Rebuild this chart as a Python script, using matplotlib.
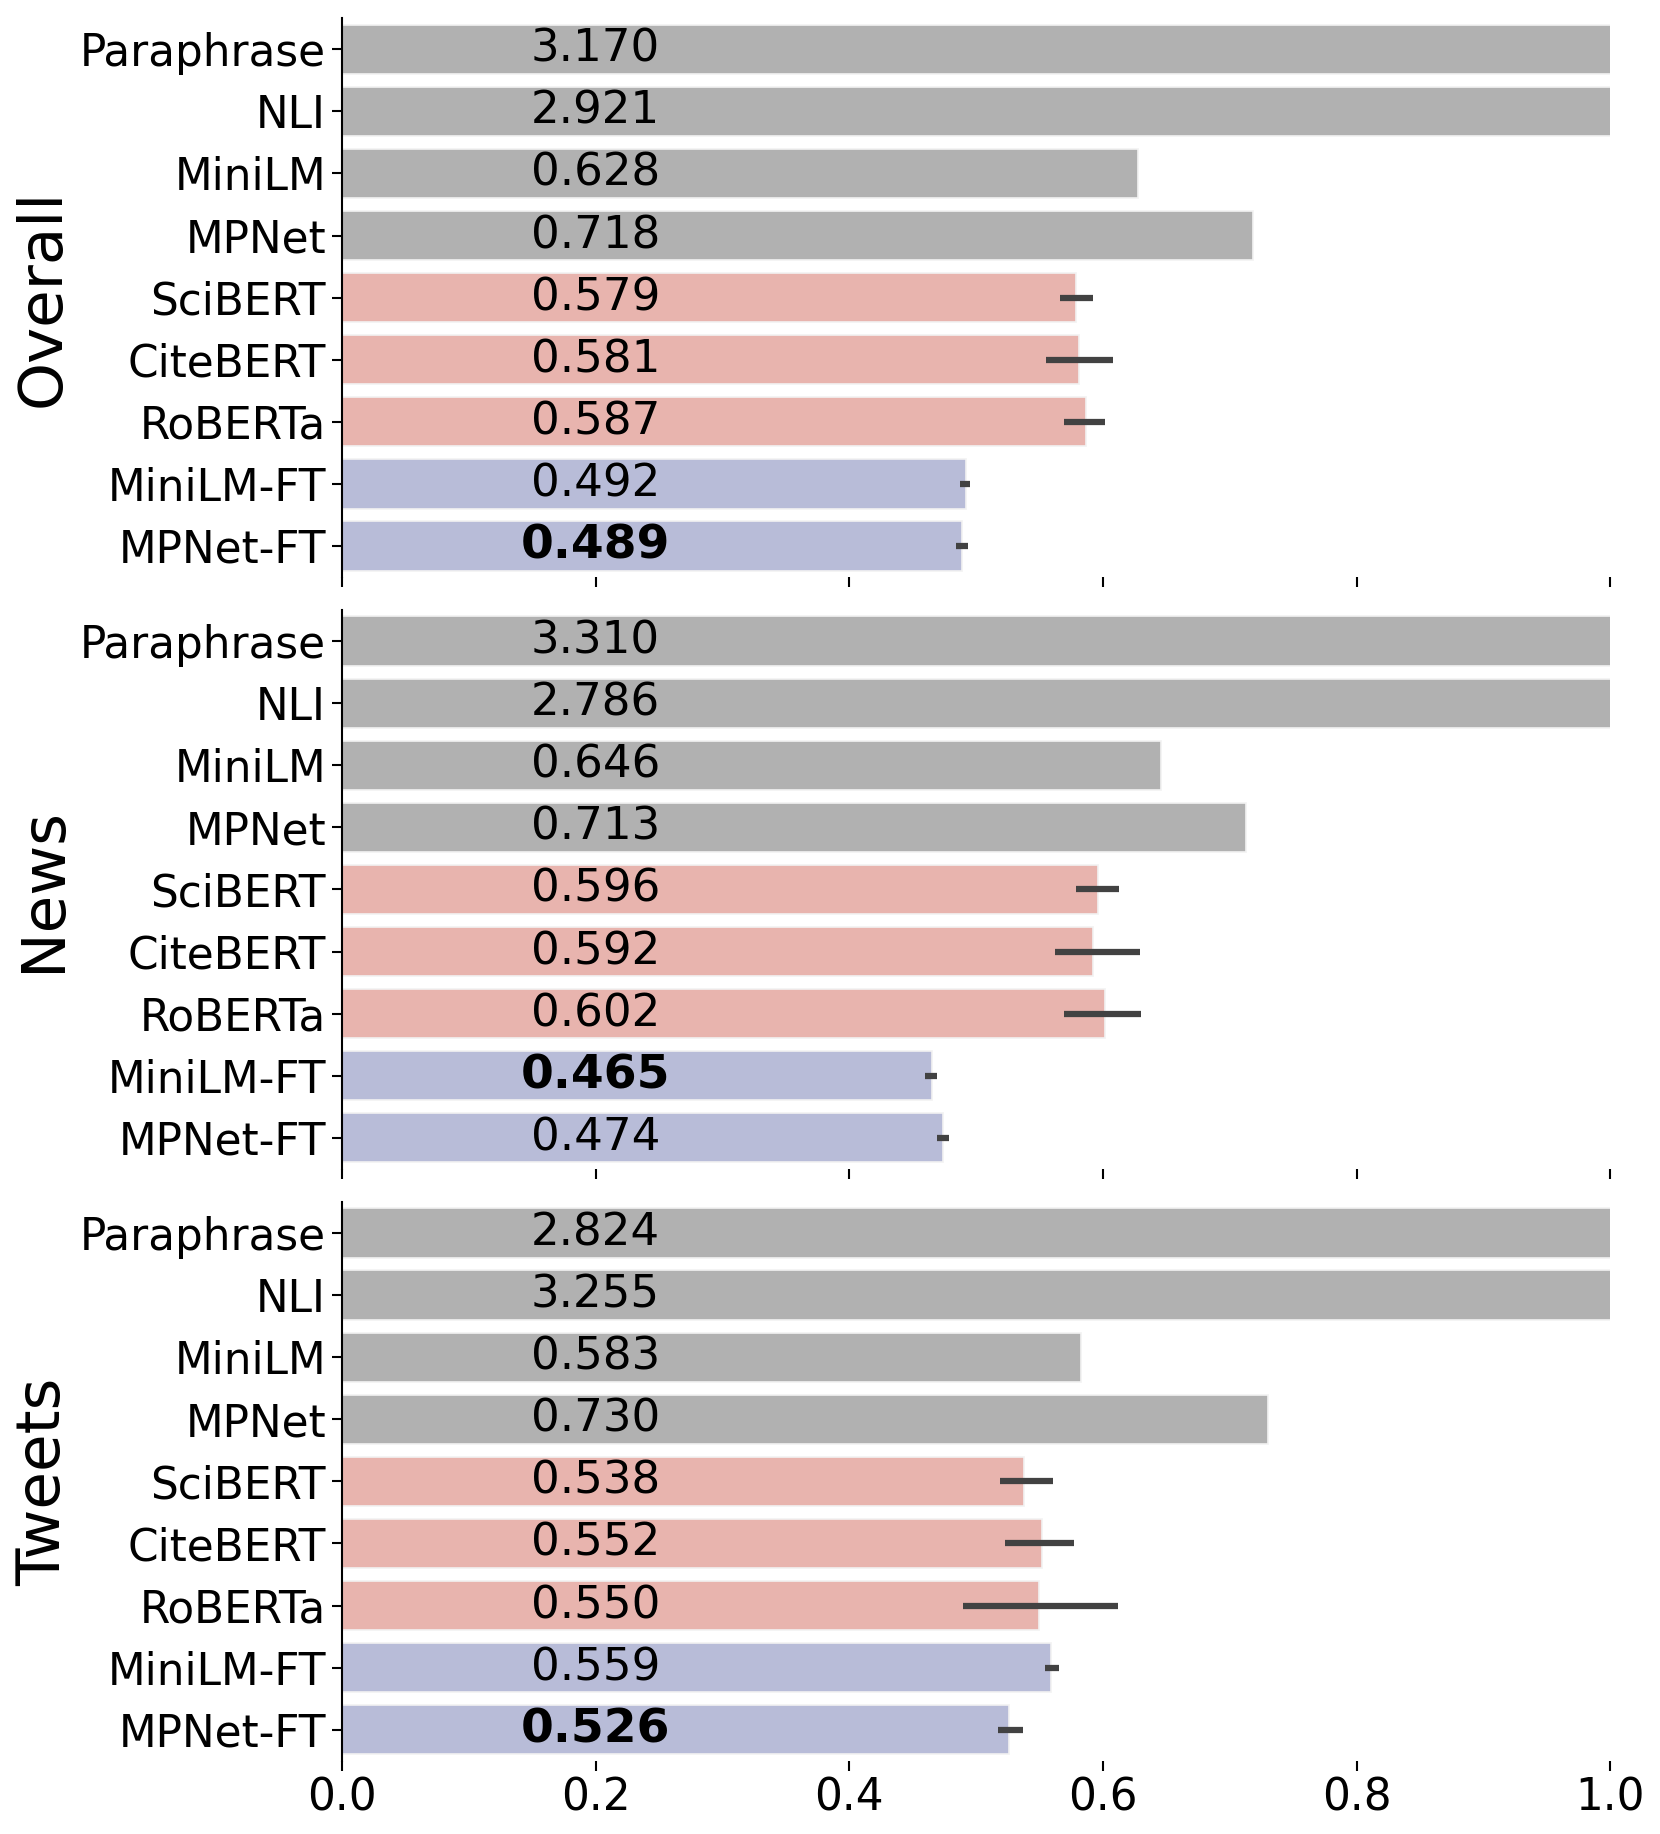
import matplotlib
matplotlib.use("Agg")
import matplotlib.pyplot as plt
import numpy as np

# model names (top to bottom)
models = ["Paraphrase", "NLI", "MiniLM", "MPNet", "SciBERT", "CiteBERT",
          "RoBERTa", "MiniLM-FT", "MPNet-FT"]
groups = ["base"] * 4 + ["sci"] * 3 + ["ft"] * 2
colors = {"base": "#b1b1b1", "sci": "#e8b4ae", "ft": "#b8bcd8"}

panels = ["Overall", "News", "Tweets"]

# mean values per panel
overall = [3.170, 2.921, 0.628, 0.718, 0.579, 0.581, 0.587, 0.492, 0.489]
news = [3.310, 2.786, 0.646, 0.713, 0.596, 0.592, 0.602, 0.465, 0.474]
tweets = [2.824, 3.255, 0.583, 0.730, 0.538, 0.552, 0.550, 0.559, 0.526]

# error interval (low, high); None = single run
overall_err = [None, None, None, None, (0.566, 0.592), (0.555, 0.608),
               (0.569, 0.602), (0.487, 0.495), (0.484, 0.494)]
news_err = [None, None, None, None, (0.579, 0.613), (0.562, 0.629),
            (0.569, 0.630), (0.460, 0.469), (0.469, 0.479)]
tweets_err = [None, None, None, None, (0.519, 0.561), (0.523, 0.577),
              (0.490, 0.612), (0.554, 0.565), (0.517, 0.537)]

values = [overall, news, tweets]
errors = [overall_err, news_err, tweets_err]

fig, axes = plt.subplots(3, 1, figsize=(16.6, 18.34), dpi=100, sharex=True)
fig.subplots_adjust(left=0.206, right=0.970, top=0.990, bottom=0.040, hspace=0.06)

y = np.arange(len(models))
for ax, name, vals, errs in zip(axes, panels, values, errors):
    best = int(np.argmin(vals))
    ax.barh(y, vals, height=0.8, color=[colors[g] for g in groups],
            edgecolor="#f2f2f2", linewidth=1.2, zorder=1)
    for i, e in enumerate(errs):
        if e is not None:
            ax.plot([e[0], e[1]], [i, i], color="#424242", lw=4.5,
                    solid_capstyle="butt", zorder=3)
    for i, v in enumerate(vals):
        ax.text(0.2, i, f"{v:.3f}", ha="center", va="center",
                fontsize=34 if i == best else 32.5,
                fontweight="bold" if i == best else "normal", zorder=4)
    ax.set_xlim(0, 1.0)
    ax.set_ylim(len(models) - 0.5, -0.5)
    ax.set_yticks(y)
    ax.set_yticklabels(models)
    ax.set_ylabel(name, fontsize=44, labelpad=5)
    ax.tick_params(axis="both", labelsize=31.5, length=7, width=1.5, pad=4.5)
    for s in ["top", "right", "bottom"]:
        ax.spines[s].set_visible(False)
    ax.spines["left"].set_linewidth(1.5)

axes[-1].set_xticks([0.0, 0.2, 0.4, 0.6, 0.8, 1.0])
fig.align_ylabels(axes)

plt.savefig("out.png")
